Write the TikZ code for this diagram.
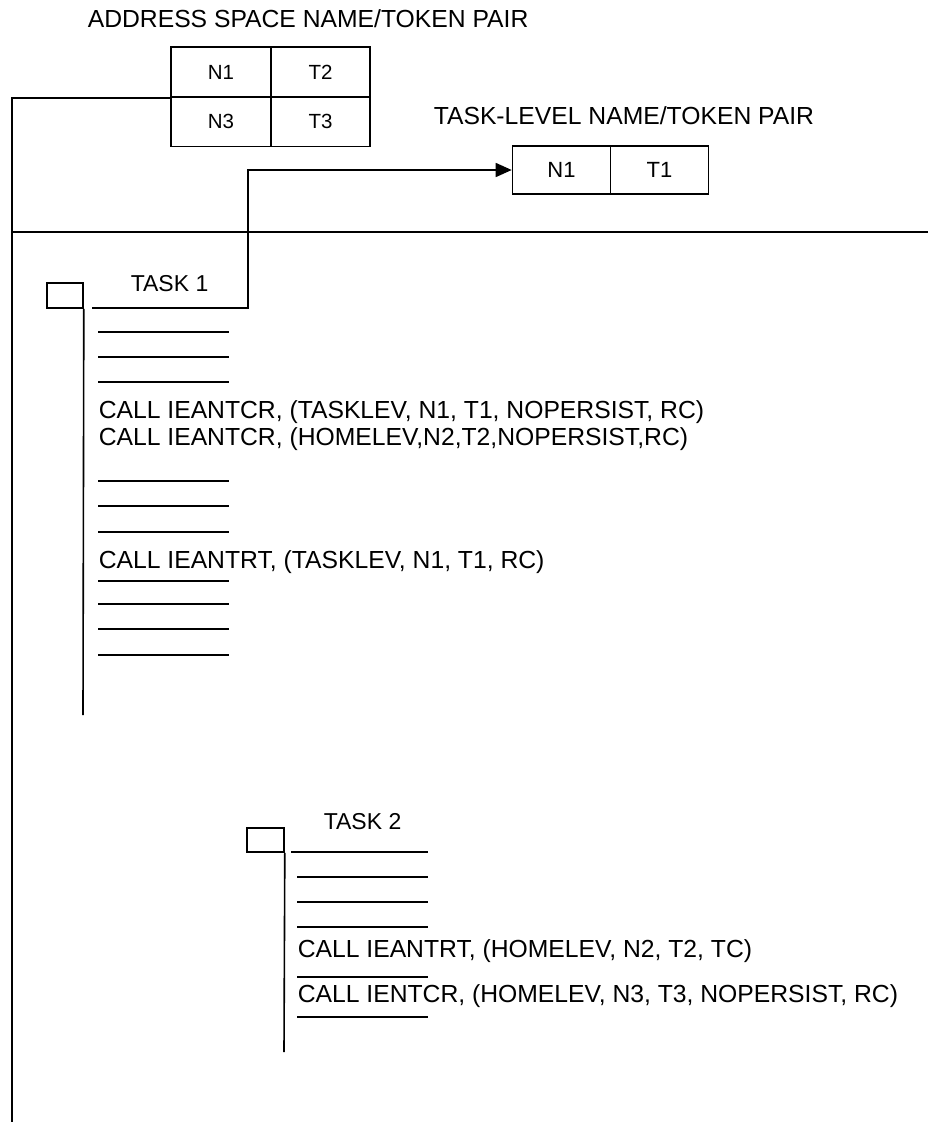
\documentclass[tikz,border=0pt]{standalone}
\usepackage{fontspec}
\setmainfont{Liberation Sans}
\usetikzlibrary{arrows.meta}
\begin{document}
\begin{tikzpicture}[x=1pt,y=-1pt,
  every path/.style={line width=1.6pt},
  lbl/.style={inner sep=0pt,anchor=base west,font=\fontsize{24.7}{28}\selectfont},
  tasklbl/.style={inner sep=0pt,anchor=base west,font=\fontsize{23}{27}\selectfont},
  cell/.style={draw,line width=1.6pt,inner sep=0pt,minimum height=50pt,minimum width=99.5pt,font=\fontsize{20.5}{24}\selectfont},
  tcell/.style={draw,line width=1.6pt,inner sep=0pt,minimum height=48pt,minimum width=98pt,font=\fontsize{22}{26}\selectfont},
  sqbox/.style={draw,line width=1.6pt,inner sep=0pt,minimum width=36pt,minimum height=25pt},
  stub/.style={line width=1.6pt}]
\useasboundingbox[fill=white] (0,0) rectangle (928,1122);

% titles
\node[lbl] (t_as) at (87,27) {ADDRESS SPACE NAME/TOKEN PAIR};
\node[lbl] (t_tl) at (433,124) {TASK-LEVEL NAME/TOKEN PAIR};

% address space table
\node[cell] (aN1) at (221,72) {N1};
\node[cell] (aT2) at (320.5,72) {T2};
\node[cell] (aN3) at (221,121.5) {N3};
\node[cell] (aT3) at (320.5,121.5) {T3};

% task-level pair
\node[tcell] (bN1) at (561.5,170) {N1};
\node[tcell] (bT1) at (659.5,170) {T1};

% frame lines
\coordinate (leftbot) at (12,1122);
\coordinate (hl) at (12,232);
\coordinate (hr) at (928,232);
\draw (aN1.south west) -| (leftbot);
\draw (hl) -- (hr);

% TASK 1
\node[sqbox] (sq1) at (65,295.5) {};
\node[tasklbl] (task1) at (130,291) {TASK 1};
\coordinate (u1a) at (92,308);
\coordinate (u1b) at (248,308);
\coordinate (v1end) at (83,715);
\draw (sq1.south east) -- (v1end);
\draw[-{Triangle[length=16pt,width=14pt]}] (u1a) -- (u1b) |- (bN1.west);

\foreach \y in {332,357,382,481,506,532,581,604,629,655}
  \draw[stub] (98,\y) -- (229,\y);
\node[lbl] (c11) at (98,418) {CALL IEANTCR, (TASKLEV, N1, T1, NOPERSIST, RC)};
\node[lbl] (c12) at (98,445) {CALL IEANTCR, (HOMELEV,N2,T2,NOPERSIST,RC)};
\node[lbl] (c13) at (98,568) {CALL IEANTRT, (TASKLEV, N1, T1, RC)};

% TASK 2
\node[sqbox,minimum width=37pt,minimum height=24pt] (sq2) at (265.5,840) {};
\node[tasklbl] (task2) at (323,829) {TASK 2};
\coordinate (v2end) at (284,1052);
\draw (sq2.south east) -- (v2end);
\draw[stub] (291,852) -- (428,852);
\foreach \y in {877,902,927,977,1017}
  \draw[stub] (297,\y) -- (428,\y);
\node[lbl] (c21) at (297,957) {CALL IEANTRT, (HOMELEV, N2, T2, TC)};
\node[lbl] (c22) at (297,1002) {CALL IENTCR, (HOMELEV, N3, T3, NOPERSIST, RC)};
\end{tikzpicture}
\end{document}
